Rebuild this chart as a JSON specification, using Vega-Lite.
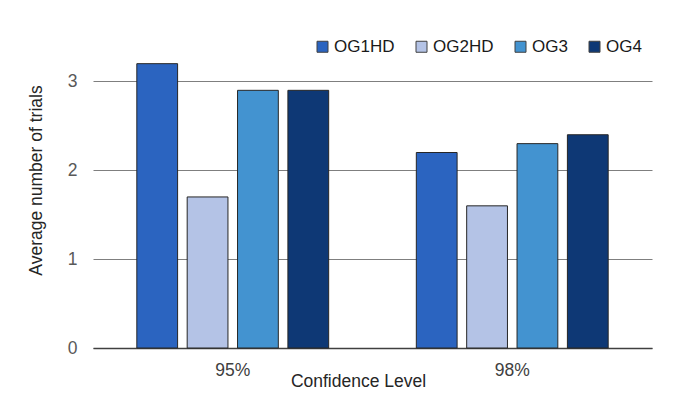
{
  "$schema": "https://vega.github.io/schema/vega-lite/v6.json",
  "autosize": {"type": "none"},
  "padding": {"left": 93, "top": 37, "right": 24, "bottom": 56},
  "width": 559,
  "height": 311,
  "background": "white",
  "data": {
    "values": [
      {"level": "95%", "series": "OG1HD", "trials": 3.2},
      {"level": "95%", "series": "OG2HD", "trials": 1.7},
      {"level": "95%", "series": "OG3", "trials": 2.9},
      {"level": "95%", "series": "OG4", "trials": 2.9},
      {"level": "98%", "series": "OG1HD", "trials": 2.2},
      {"level": "98%", "series": "OG2HD", "trials": 1.6},
      {"level": "98%", "series": "OG3", "trials": 2.3},
      {"level": "98%", "series": "OG4", "trials": 2.4}
    ]
  },
  "mark": {"type": "bar", "stroke": "#262626", "strokeWidth": 1},
  "encoding": {
    "x": {
      "field": "level",
      "type": "nominal",
      "scale": {"paddingInner": 0, "paddingOuter": 0},
      "axis": {
        "title": "Confidence Level",
        "labelAngle": 0,
        "labelFontSize": 17.5,
        "labelColor": "#404040",
        "labelPadding": 13,
        "ticks": false,
        "domainColor": "#404040",
        "domainWidth": 1.5,
        "titleFontSize": 17.5,
        "titleFontWeight": "normal",
        "titleColor": "#262626",
        "titlePadding": -6,
        "titleX": 265
      }
    },
    "xOffset": {
      "field": "series",
      "type": "nominal",
      "sort": ["OG1HD", "OG2HD", "OG3", "OG4"],
      "scale": {"paddingInner": 0.19, "paddingOuter": 0.87}
    },
    "y": {
      "field": "trials",
      "type": "quantitative",
      "scale": {"domain": [0, 3.5]},
      "axis": {
        "title": "Average number of trials",
        "values": [0, 1, 2, 3],
        "format": "d",
        "domain": false,
        "ticks": false,
        "labelFontSize": 17.5,
        "labelColor": "#595959",
        "labelPadding": 16,
        "gridColor": "#7f7f7f",
        "gridWidth": 1,
        "titleFontSize": 17.5,
        "titleFontWeight": "normal",
        "titleColor": "#262626",
        "titlePadding": 22,
        "titleY": 143
      }
    },
    "color": {
      "field": "series",
      "type": "nominal",
      "sort": ["OG1HD", "OG2HD", "OG3", "OG4"],
      "scale": {
        "domain": ["OG1HD", "OG2HD", "OG3", "OG4"],
        "range": ["#2b64c0", "#b4c3e6", "#4393d0", "#0e3875"]
      },
      "legend": {
        "title": null,
        "orient": "none",
        "direction": "horizontal",
        "legendX": 221,
        "legendY": 1,
        "symbolType": "square",
        "symbolSize": 121,
        "symbolStrokeColor": "#404040",
        "symbolStrokeWidth": 1,
        "symbolOpacity": 1,
        "labelFontSize": 17,
        "labelColor": "#1a1a1a",
        "labelOffset": 3,
        "columnPadding": 18
      }
    }
  },
  "config": {
    "font": "Liberation Sans",
    "view": {"stroke": null}
  }
}
